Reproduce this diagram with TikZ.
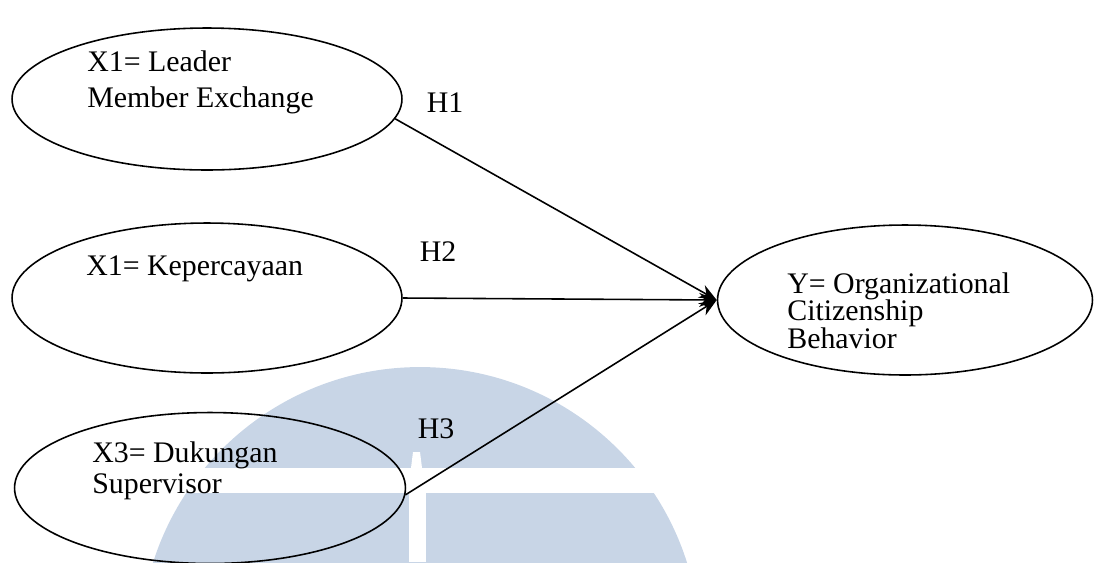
\documentclass[tikz,border=0pt]{standalone}
\usepackage{fontspec}
\setmainfont{Liberation Serif}
\usetikzlibrary{shapes.geometric, arrows.meta}
\definecolor{markblue}{RGB}{200,213,230}

\begin{document}
\begin{tikzpicture}[x=0.02cm, y=-0.02cm,
    var/.style={draw, ellipse, line width=0.9pt, inner sep=0pt,
      minimum width=7.8cm, minimum height=2.84cm},
    lbl/.style={inner sep=0pt, align=left, font=\fontsize{17pt}{20pt}\selectfont},
    hyp/.style={line width=0.9pt, -{Stealth[length=10pt, width=8pt]}}]
  \useasboundingbox (0,0) rectangle (1094,562);

  % Watermark
  \begin{scope}
    \clip (0,0) rectangle (1094,562);
    \fill[markblue] (420,647) circle[radius=5.6cm];
  \end{scope}
  \fill[white] (130,468) rectangle (710,493);
  \fill[white] (413,452) -- (420,452) -- (422,468) -- (411,468) -- cycle;
  \fill[white] (409,493) rectangle (426,562);

  % Variables
  \node[var] (lmx) at (207,99) {};
  \node[var, minimum height=3cm] (trust) at (207,298) {};
  \node[var, minimum width=7.82cm, minimum height=3.02cm] (sup) at (210,488) {};
  \node[var, minimum width=7.5cm, minimum height=3cm] (ocb) at (905,300) {};

  % Variable texts (base = last line)
  \node[lbl, anchor=base west] (lmxtxt) at (87,107) {X1= Leader\\Member Exchange};
  \node[lbl, anchor=base west] (trusttxt) at (86,275) {X1= Kepercayaan};
  \node[lbl, anchor=base west, font=\fontsize{17pt}{17.6pt}\selectfont]
    (suptxt) at (92,493) {X3= Dukungan\\Supervisor};
  \node[lbl, anchor=base west, font=\fontsize{17pt}{15.6pt}\selectfont]
    (ocbtxt) at (787,348) {Y= Organizational\\Citizenship\\Behavior};

  % Hypotheses
  \node[lbl] (h1) at (445,103) {H1};
  \node[lbl] (h2) at (438,252) {H2};
  \node[lbl] (h3) at (436,429) {H3};
  \draw[hyp] (lmx.-6) -- (ocb.west);
  \draw[hyp] (trust.east) -- (ocb.west);
  \draw[hyp] (sup.-2) -- (ocb.west);
\end{tikzpicture}
\end{document}
